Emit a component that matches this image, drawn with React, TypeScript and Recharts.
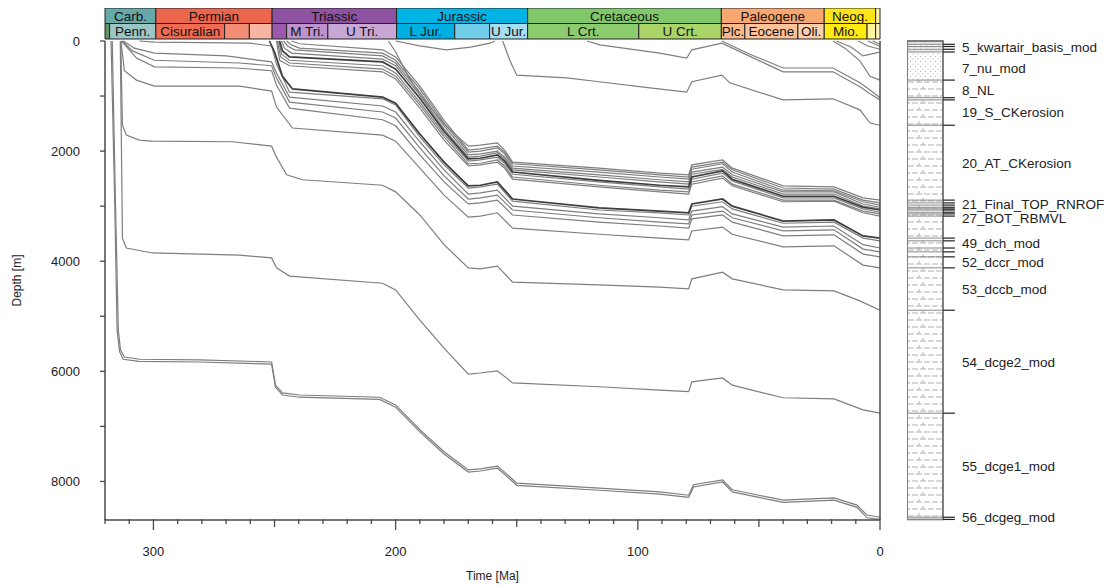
import React from "react";
import {
  LineChart,
  Line,
  XAxis,
  YAxis,
  ComposedChart,
  ReferenceArea,
  ReferenceLine,
} from "recharts";

// [age Ma, depth m]
type Pt = [number, number];

// --- horizons (burial paths), youngest first ---
const hQ3: Pt[] = [[3, 0], [0, 60]];
const hQ2: Pt[] = [[5, 0], [2, 60], [0, 100]];
const hQ1: Pt[] = [[9, 0], [5, 90], [0, 150]];
const hN2: Pt[] = [[18, 0], [12, 110], [7, 270], [2, 220], [0, 200]];
const hN1: Pt[] = [[19.4, 0], [14.5, 130], [8.3, 360], [4.1, 640], [0, 710]];
const hP1: Pt[] = [[65.3, 0], [53.7, 240], [40, 490], [19.4, 490], [8.3, 760], [4.1, 890], [0, 1030]];
const hK1: Pt[] = [[121, 0], [115.7, 70], [91, 220], [79.8, 310], [77.7, 160], [65.3, 40], [53.7, 280], [40, 560], [19.4, 560], [8.3, 830], [4.1, 960], [0, 1070]];
const hJ1: Pt[] = [[155.8, 0], [152.9, 345], [150, 620], [129.3, 670], [116, 740], [95, 850], [79.8, 930], [77.7, 740], [65.3, 620], [62, 760], [40, 1070], [19.4, 1050], [8.3, 1250], [4.1, 1490], [0, 1530]];
const hH0: Pt[] = [[200, 0], [190, 90], [179, 160], [169, 110], [161, 40], [159, 0]];
const hJ0: Pt[] = [[203, 0], [200, 200], [195, 620], [190, 980], [180, 1510], [170, 1910], [165, 1890], [158, 1850], [155, 1980], [151.7, 2200], [116, 2310], [91, 2400], [79, 2430], [77.7, 2250], [65, 2160], [61, 2310], [40, 2630], [19, 2650], [7, 2850], [0, 2890]];
const hT1: Pt[] = [[243, 0], [239.7, 50], [205.4, 160], [200, 290], [190, 820], [180, 1440], [170, 1980], [165, 1960], [158, 1910], [155, 2020], [151.7, 2230], [116, 2340], [91, 2430], [79, 2470], [77.7, 2290], [65, 2200], [61, 2340], [40, 2670], [19, 2690], [7, 2890], [0, 2940]];
const hT2: Pt[] = [[245, 0], [243, 70], [239.7, 130], [205.4, 220], [200, 350], [190, 870], [180, 1490], [170, 2020], [165, 2000], [158, 1940], [155, 2050], [151.7, 2270], [116, 2380], [91, 2470], [79, 2510], [77.7, 2330], [65, 2230], [61, 2380], [40, 2710], [19, 2720], [7, 2920], [0, 2980]];
const hT3: Pt[] = [[246.3, 0], [244.6, 90], [241.7, 160], [205.4, 270], [200, 400], [190, 930], [180, 1540], [170, 2070], [165, 2050], [158, 2000], [155, 2110], [151.7, 2310], [116, 2430], [91, 2520], [79, 2560], [77.7, 2380], [65, 2290], [61, 2430], [40, 2740], [19, 2740], [7, 2960], [0, 3020]];
const hT4: Pt[] = [[247.1, 0], [245.9, 130], [243, 220], [205.4, 330], [200, 450], [190, 980], [180, 1600], [170, 2110], [165, 2090], [158, 2030], [155, 2140], [151.7, 2340], [116, 2470], [91, 2560], [79, 2600], [77.7, 2420], [65, 2330], [61, 2470], [40, 2780], [19, 2780], [7, 3000], [0, 3050]];
const hT5: Pt[] = [[247.9, 0], [246.7, 180], [243.8, 290], [205.4, 380], [200, 510], [190, 1040], [180, 1640], [170, 2140], [165, 2130], [158, 2070], [155, 2180], [151.7, 2380], [116, 2530], [91, 2620], [79, 2650], [77.7, 2470], [65, 2360], [61, 2510], [40, 2820], [19, 2820], [7, 3020], [0, 3070]];
const hT6: Pt[] = [[248.3, 0], [247.1, 240], [243.8, 350], [205.4, 450], [200, 580], [190, 1110], [180, 1690], [170, 2180], [165, 2160], [158, 2110], [155, 2220], [151.7, 2420], [116, 2560], [91, 2650], [79, 2690], [77.7, 2510], [65, 2400], [61, 2540], [40, 2850], [19, 2850], [7, 3050], [0, 3110]];
const hT7: Pt[] = [[248.8, 0], [247.5, 290], [243.8, 400], [205.4, 510], [200, 640], [190, 1160], [180, 1740], [170, 2230], [165, 2220], [158, 2160], [155, 2270], [151.7, 2470], [116, 2620], [91, 2710], [79, 2740], [77.7, 2560], [65, 2450], [61, 2600], [40, 2890], [19, 2890], [7, 3090], [0, 3140]];
const hT8: Pt[] = [[249.2, 0], [247.9, 350], [243.8, 450], [205.4, 560], [200, 690], [190, 1220], [180, 1800], [170, 2270], [165, 2250], [158, 2200], [155, 2310], [151.7, 2510], [116, 2650], [91, 2740], [79, 2780], [77.7, 2600], [65, 2490], [61, 2630], [40, 2920], [19, 2910], [7, 3120], [0, 3180]];
const hL1: Pt[] = [[252.1, 0], [250, 200], [246.7, 640], [242.6, 870], [205.4, 1020], [200, 1130], [190, 1690], [180, 2200], [170, 2630], [165, 2620], [158, 2560], [151.7, 2870], [116, 3030], [91, 3090], [79, 3120], [77.7, 2960], [65, 2870], [61, 3000], [40, 3270], [19, 3250], [7, 3540], [0, 3580]];
const hL2: Pt[] = [[305.8, 0], [299.6, 20], [260.3, 40], [251.2, 90], [249.2, 420], [243.8, 930], [205.4, 1050], [200, 1160], [190, 1740], [180, 2250], [170, 2670], [165, 2650], [158, 2600], [151.7, 2910], [116, 3070], [91, 3120], [79, 3160], [77.7, 3000], [65, 2920], [61, 3050], [40, 3310], [19, 3290], [7, 3580], [0, 3630]];
const hL3: Pt[] = [[312.4, 0], [307.9, 130], [299.6, 220], [269.8, 270], [251.2, 380], [249.2, 580], [243.8, 1020], [205.4, 1180], [200, 1290], [190, 1830], [180, 2340], [170, 2780], [165, 2760], [158, 2710], [151.7, 3000], [116, 3140], [91, 3210], [79, 3250], [77.7, 3090], [65, 3010], [61, 3140], [40, 3380], [19, 3360], [7, 3700], [0, 3760]];
const hL4: Pt[] = [[312.8, 0], [308.7, 180], [299.6, 350], [264.5, 400], [251.2, 450], [249.2, 670], [243.8, 1110], [205.4, 1290], [200, 1400], [190, 1940], [180, 2450], [170, 2870], [165, 2850], [158, 2800], [151.7, 3070], [116, 3210], [91, 3290], [79, 3320], [77.7, 3160], [65, 3090], [61, 3210], [40, 3450], [19, 3430], [7, 3780], [0, 3830]];
const hL5: Pt[] = [[313.2, 0], [307, 310], [299.6, 470], [265.7, 490], [251.2, 540], [249.2, 800], [243.8, 1220], [205.4, 1430], [200, 1540], [190, 2070], [180, 2560], [170, 2960], [165, 2940], [158, 2890], [151.7, 3160], [116, 3290], [91, 3360], [79, 3400], [77.7, 3230], [65, 3160], [61, 3290], [40, 3540], [19, 3520], [7, 3870], [0, 3920]];
const hL6: Pt[] = [[313.4, 0], [312, 540], [307, 710], [299.6, 820], [264.5, 820], [251.2, 910], [249.2, 1200], [242.6, 1580], [205.4, 1710], [200, 1820], [190, 2310], [180, 2800], [170, 3200], [165, 3180], [158, 3120], [151.7, 3400], [116, 3510], [91, 3580], [79, 3610], [77.7, 3450], [65, 3380], [61, 3510], [40, 3740], [19, 3720], [7, 4070], [0, 4120]];
const hE: Pt[] = [[313.5, 0], [312.8, 1530], [311.2, 1710], [305.8, 1800], [300.8, 1820], [267.4, 1830], [251.2, 1910], [249.2, 2110], [245, 2430], [238.4, 2520], [205.4, 2620], [200, 2740], [190, 3160], [180, 3700], [170, 4120], [165, 4140], [158, 4090], [151.7, 4380], [116, 4430], [91, 4470], [79, 4500], [77.7, 4320], [65, 4200], [61, 4320], [40, 4520], [19, 4540], [8.3, 4720], [0, 4890]];
const hF: Pt[] = [[313.7, 0], [313.2, 1980], [312.8, 3580], [311.2, 3760], [300.4, 3850], [264.5, 3890], [251.2, 3940], [249.2, 4120], [243.8, 4270], [205.4, 4400], [200, 4520], [190, 5070], [180, 5580], [170, 6050], [165, 6030], [158, 5990], [151.7, 6210], [116, 6280], [91, 6340], [79, 6370], [77.7, 6190], [65, 6120], [61, 6250], [40, 6480], [19, 6500], [7, 6700], [0, 6760]];
const h55: Pt[] = [[317, 0], [315.7, 2890], [314.5, 5250], [313.6, 5610], [312, 5740], [305.8, 5780], [281, 5790], [251.2, 5830], [249.6, 6250], [246.7, 6390], [239.7, 6430], [206.6, 6470], [200, 6610], [190, 7060], [180, 7460], [170, 7790], [165, 7770], [158, 7720], [155, 7830], [150, 8030], [116, 8120], [91, 8190], [79, 8250], [77, 8060], [65, 7970], [61, 8150], [50, 8250], [40, 8340], [19, 8300], [9.5, 8430], [5.4, 8610], [0, 8650]];
const h56: Pt[] = [[317.5, 0], [316, 2900], [315, 5260], [314, 5640], [312.5, 5780], [306, 5820], [281, 5830], [251.2, 5870], [249.6, 6290], [246.7, 6430], [239.7, 6470], [206.6, 6510], [200, 6650], [190, 7100], [180, 7500], [170, 7830], [165, 7810], [158, 7760], [155, 7870], [150, 8070], [116, 8160], [91, 8230], [79, 8290], [77, 8100], [65, 8010], [61, 8190], [50, 8290], [40, 8380], [19, 8340], [9.5, 8470], [5.4, 8660], [0, 8690]];

const HORIZONS = [
  { id: "q3", pts: hQ3, lith: "quat", dark: false },
  { id: "q2", pts: hQ2, lith: "quat", dark: false },
  { id: "q1", pts: hQ1, lith: "quat", dark: false },
  { id: "n2", pts: hN2, lith: "quat", dark: false },
  { id: "n1", pts: hN1, lith: "sand", dark: false },
  { id: "p1", pts: hP1, lith: "shale", dark: false },
  { id: "k1", pts: hK1, lith: "shale", dark: false },
  { id: "j1", pts: hJ1, lith: "shale", dark: false },
  { id: "h0", pts: hH0, lith: "none", dark: false },
  { id: "j0", pts: hJ0, lith: "shale", dark: false },
  { id: "t1", pts: hT1, lith: "shale", dark: false },
  { id: "t2", pts: hT2, lith: "shale", dark: false },
  { id: "t3", pts: hT3, lith: "shale", dark: false },
  { id: "t4", pts: hT4, lith: "shale", dark: false },
  { id: "t5", pts: hT5, lith: "shale", dark: true },
  { id: "t6", pts: hT6, lith: "shale", dark: false },
  { id: "t7", pts: hT7, lith: "shale", dark: false },
  { id: "t8", pts: hT8, lith: "shale", dark: false },
  { id: "l1", pts: hL1, lith: "shale", dark: true },
  { id: "l2", pts: hL2, lith: "shale", dark: false },
  { id: "l3", pts: hL3, lith: "shale", dark: false },
  { id: "l4", pts: hL4, lith: "shale", dark: false },
  { id: "l5", pts: hL5, lith: "shale", dark: false },
  { id: "l6", pts: hL6, lith: "shale", dark: false },
  { id: "e", pts: hE, lith: "shale", dark: false },
  { id: "f", pts: hF, lith: "shale", dark: false },
  { id: "b55", pts: h55, lith: "shale", dark: false },
  { id: "b56", pts: h56, lith: "shale", dark: false },
];

// --- time scale (GTS 2004) ---
const PERIOD_NAMES = ["Carb.", "Permian", "Triassic", "Jurassic", "Cretaceous", "Paleogene", "Neog.", ""];
const PERIOD_BOUNDS = [320, 299, 251, 199.6, 145.5, 65.5, 23.03, 1.8, 0];
const PERIOD_COLORS = ["#67A9A9", "#EC664E", "#8E52A2", "#00B3E5", "#80C86A", "#F9A770", "#FFE41A", "#FFF3A8"];

const EPOCH_NAMES = ["", "Penn.", "Cisuralian", "", "", "", "M Tri.", "U Tri.", "L Jur.", "", "U Jur.", "L Crt.", "U Crt.", "Plc.", "Eocene", "Oli.", "Mio.", "", ""];
const EPOCH_BOUNDS = [320, 318.1, 299, 270.6, 260.4, 251, 245, 228, 199.6, 175.6, 161.2, 145.5, 99.6, 65.5, 55.8, 33.9, 23.03, 5.33, 1.8, 0];
const EPOCH_COLORS = ["#5E9466", "#9CC6C6", "#EF6B53", "#F48D76", "#F8B5A3", "#9C58AC", "#BD93CC", "#C7A7D4", "#00AFE2", "#72CDEB", "#A7DDF1", "#8DCB6F", "#AAD468", "#FBB98C", "#FBC39C", "#FCD0AC", "#FFEA14", "#FFF49C", "#FFF6BE"];

// --- axes ---
const X_TICKS = [0, 10, 20, 30, 40, 50, 60, 70, 80, 90, 100, 110, 120, 130, 140, 150, 160, 170, 180, 190, 200, 210, 220, 230, 240, 250, 260, 270, 280, 290, 300, 310, 320];
const Y_TICKS = [0, 1000, 2000, 3000, 4000, 5000, 6000, 7000, 8000];

// --- well column labels ---
const LABEL_NAMES = ["5_kwartair_basis_mod", "7_nu_mod", "8_NL", "19_S_CKerosion", "20_AT_CKerosion", "21_Final_TOP_RNROF", "27_BOT_RBMVL", "49_dch_mod", "52_dccr_mod", "53_dccb_mod", "54_dcge2_mod", "55_dcge1_mod", "56_dcgeg_mod"];
const LABEL_DEPTHS = [110, 490, 890, 1290, 2220, 2960, 3210, 3670, 4010, 4500, 5830, 7720, 8650];

const AXIS = "#4a4a4a";
const FONT = '"Liberation Sans", Arial, sans-serif';

const XTick = (props: any) => {
  const { x, y, payload } = props;
  const v = payload.value;
  const len = v % 100 === 0 ? 10 : v % 50 === 0 ? 7 : 4;
  return (
    <g>
      <line x1={x} x2={x} y1={y - 1} y2={y + len} stroke={AXIS} strokeWidth={1.3} />
      {v % 100 === 0 && (
        <text x={x} y={y + 36} textAnchor="middle" fontSize={13} fill="#222">
          {v}
        </text>
      )}
    </g>
  );
};

const YTick = (props: any) => {
  const { x, y, payload } = props;
  const v = payload.value;
  return (
    <g>
      <line x1={x - 5} x2={x} y1={y} y2={y} stroke={AXIS} strokeWidth={1.3} />
      {v % 2000 === 0 && (
        <text x={x - 25} y={y + 4.5} textAnchor="end" fontSize={13} fill="#222">
          {v}
        </text>
      )}
    </g>
  );
};

export default function App() {
  const series = HORIZONS.map((h) => ({
    ...h,
    rows: h.pts.map(([age, depth]) => ({ age, depth })),
  }));
  const ordered = [...series.filter((s) => !s.dark), ...series.filter((s) => s.dark)];

  const sorted = HORIZONS.filter((h) => h.lith !== "none")
    .map((h) => ({ id: h.id, lith: h.lith, base: h.pts[h.pts.length - 1][1] }))
    .sort((a, b) => a.base - b.base);
  const layers = sorted.map((l, i) => ({ ...l, top: i === 0 ? 0 : sorted[i - 1].base }));
  const colBottom = sorted[sorted.length - 1].base;

  // rows for the helper charts (one per box / layer)
  const scaleRows = EPOCH_BOUNDS.map((age) => ({ age, row: 1 }));
  const columnRows = layers.map((l) => ({ pos: 0.5, depth: l.base }));

  return (
    <div style={{ position: "relative", width: 1104, height: 578, fontFamily: FONT }}>
      <svg width={0} height={0} style={{ position: "absolute" }}>
        <defs>
          <pattern id="shale" width="24" height="14" patternUnits="userSpaceOnUse">
            <path
              d="M1 4h6M9 4h6M12 1v3M17 4h6M5 11h6M13 11h6M16 8v3M21 11h3M0 11h3"
              stroke="#b0b0b0"
              strokeWidth="1"
              fill="none"
            />
          </pattern>
          <pattern id="sand" width="5" height="5" patternUnits="userSpaceOnUse">
            <circle cx="1" cy="1" r="0.6" fill="#a0a0a0" />
            <circle cx="3.5" cy="3.5" r="0.6" fill="#a0a0a0" />
          </pattern>
          <pattern id="quat" width="6" height="4" patternUnits="userSpaceOnUse">
            <circle cx="1.5" cy="1" r="0.6" fill="#999" />
            <line x1="0" x2="6" y1="3" y2="3" stroke="#bbb" strokeWidth="0.8" />
          </pattern>
        </defs>
      </svg>

      {/* burial history */}
      <div style={{ position: "absolute", left: 0, top: 0 }}>
        <LineChart width={880} height={578} margin={{ top: 33, right: 8, bottom: 6, left: 0 }}>
          <XAxis
            type="number"
            dataKey="age"
            domain={[0, 320]}
            reversed
            ticks={X_TICKS}
            interval={0}
            tickSize={0}
            tickMargin={0}
            tickLine={false}
            tick={<XTick />}
            axisLine={{ stroke: AXIS, strokeWidth: 1.5 }}
            height={60}
            label={{ value: "Time [Ma]", position: "insideBottom", offset: 0, fontSize: 12, fill: "#222" }}
          />
          <YAxis
            type="number"
            dataKey="depth"
            domain={[0, 8700]}
            reversed
            ticks={Y_TICKS}
            interval={0}
            tickSize={0}
            tickMargin={0}
            tickLine={false}
            tick={<YTick />}
            axisLine={{ stroke: AXIS, strokeWidth: 1.5 }}
            width={97}
            label={{
              value: "Depth [m]",
              angle: -90,
              position: "insideLeft",
              offset: 9,
              fontSize: 12,
              fill: "#222",
              style: { textAnchor: "middle" },
            }}
          />
          {ordered.map((s) => (
            <Line
              key={s.id}
              data={s.rows}
              dataKey="depth"
              type="linear"
              stroke={s.dark ? "#3c3c3c" : "#7e7e7e"}
              strokeWidth={s.dark ? 1.7 : 1.2}
              dot={false}
              activeDot={false}
              isAnimationActive={false}
            />
          ))}
          <ReferenceLine x={0} stroke={AXIS} strokeWidth={1.5} />
        </LineChart>
      </div>

      {/* time scale */}
      <div style={{ position: "absolute", left: 0, top: 0 }}>
        <ComposedChart
          width={880}
          height={32}
          data={scaleRows}
          margin={{ top: 0, right: 8, bottom: 1, left: 97 }}
        >
          <XAxis hide type="number" dataKey="age" domain={[0, 320]} reversed />
          <YAxis hide type="number" dataKey="row" domain={[0, 2]} />
          <Line dataKey="row" stroke="none" dot={false} activeDot={false} isAnimationActive={false} />
          {PERIOD_NAMES.map((n, i) => (
            <ReferenceArea
              key={"p" + i}
              x1={PERIOD_BOUNDS[i]}
              x2={PERIOD_BOUNDS[i + 1]}
              y1={1}
              y2={2}
              fill={PERIOD_COLORS[i]}
              fillOpacity={1}
              stroke="#222"
              strokeWidth={1}
              ifOverflow="visible"
              label={n ? { value: n, position: "center", fontSize: 13.5, fill: "#111" } : undefined}
            />
          ))}
          {EPOCH_NAMES.map((n, i) => (
            <ReferenceArea
              key={"e" + i}
              x1={EPOCH_BOUNDS[i]}
              x2={EPOCH_BOUNDS[i + 1]}
              y1={0}
              y2={1}
              fill={EPOCH_COLORS[i]}
              fillOpacity={1}
              stroke="#222"
              strokeWidth={1}
              ifOverflow="visible"
              label={n ? { value: n, position: "center", fontSize: 13.5, fill: "#111" } : undefined}
            />
          ))}
        </ComposedChart>
      </div>

      {/* well column */}
      <div style={{ position: "absolute", left: 899, top: 0 }}>
        <ComposedChart
          width={205}
          height={578}
          data={columnRows}
          margin={{ top: 33, right: 169, bottom: 66, left: 0 }}
        >
          <XAxis hide type="number" dataKey="pos" domain={[0, 1]} />
          <YAxis hide type="number" dataKey="depth" domain={[0, 8700]} reversed />
          <Line dataKey="depth" stroke="none" dot={false} activeDot={false} isAnimationActive={false} />
          {layers.map((l) => (
            <ReferenceArea
              key={"c" + l.id}
              x1={0}
              x2={1}
              y1={l.top}
              y2={l.base}
              fill={`url(#${l.lith})`}
              fillOpacity={1}
              stroke="none"
              ifOverflow="visible"
            />
          ))}
          {layers.map((l) => (
            <ReferenceLine
              key={"i" + l.id}
              segment={[
                { x: 0, y: l.base },
                { x: 1, y: l.base },
              ]}
              stroke="#8a8a8a"
              strokeWidth={1}
              ifOverflow="visible"
            />
          ))}
          {layers.map((l) => (
            <ReferenceLine
              key={"t" + l.id}
              segment={[
                { x: 1, y: l.base },
                { x: 1.33, y: l.base },
              ]}
              stroke="#222"
              strokeWidth={1.2}
              ifOverflow="visible"
            />
          ))}
          <ReferenceArea
            x1={0}
            x2={1}
            y1={0}
            y2={colBottom}
            fill="none"
            stroke="#555"
            strokeWidth={1.5}
            ifOverflow="visible"
          />
          {LABEL_NAMES.map((n, i) => (
            <ReferenceLine
              key={"lb" + i}
              y={LABEL_DEPTHS[i]}
              stroke="#000"
              strokeOpacity={0}
              ifOverflow="visible"
              label={{ value: n, position: "right", offset: 19, fontSize: 13.5, fill: "#222" }}
            />
          ))}
        </ComposedChart>
      </div>
    </div>
  );
}
